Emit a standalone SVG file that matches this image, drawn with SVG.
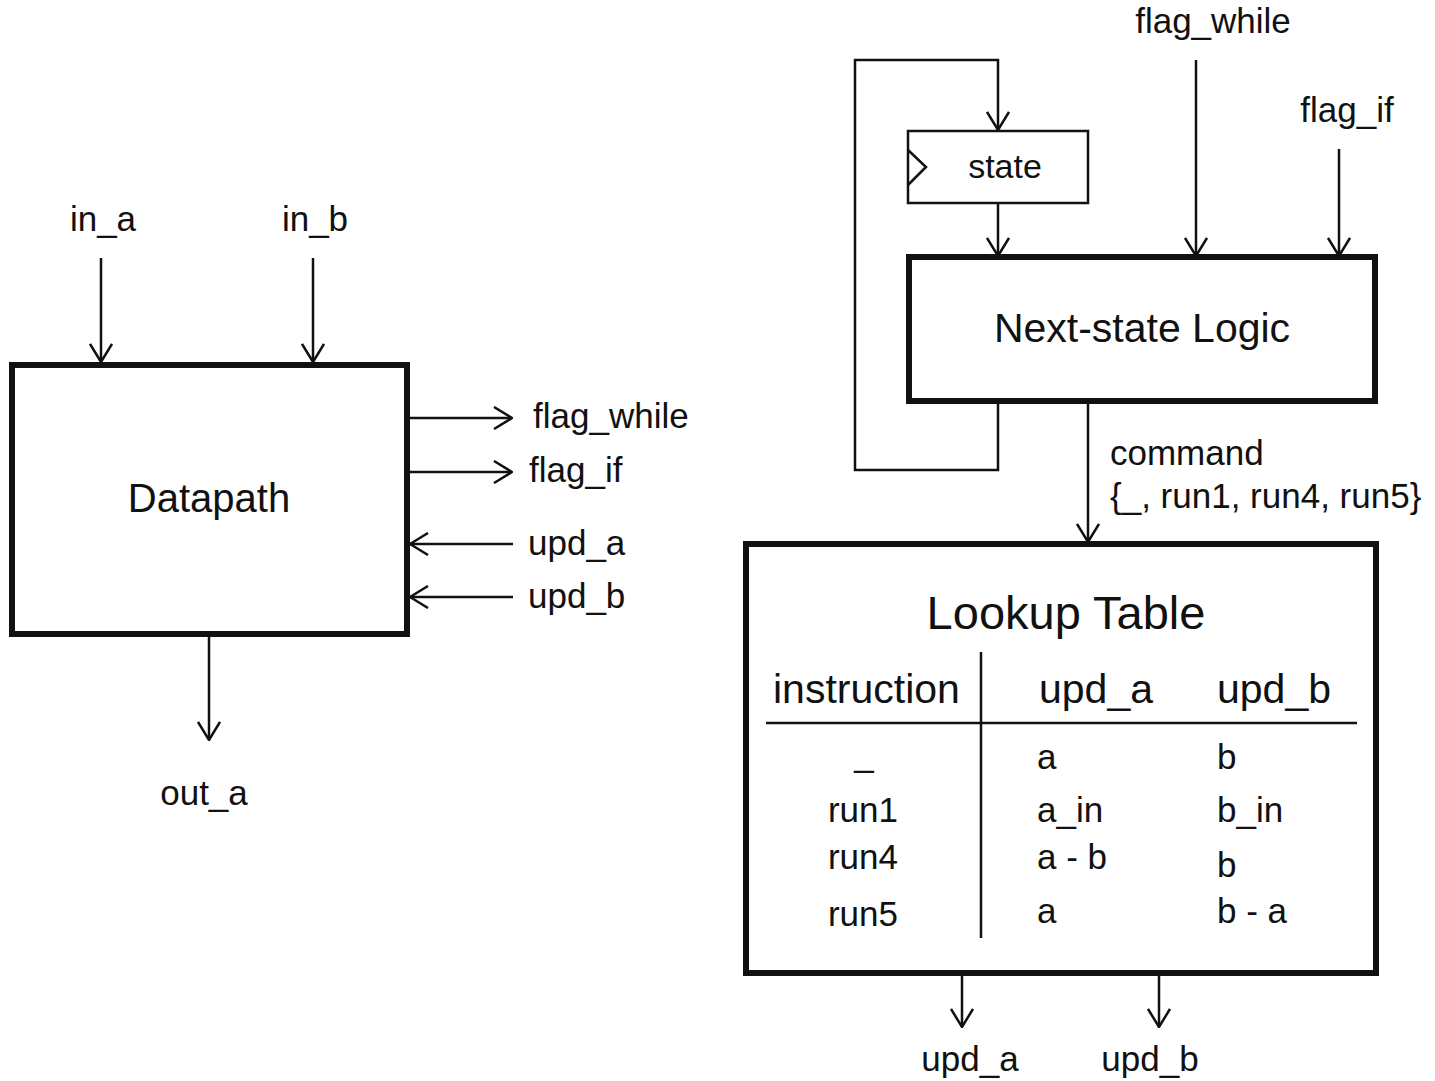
<svg xmlns="http://www.w3.org/2000/svg" width="1435" height="1081" viewBox="0 0 1435 1081">
  <defs>
    <marker id="arrow" viewBox="0 0 20 24" refX="19" refY="12" markerWidth="20" markerHeight="24" markerUnits="userSpaceOnUse" orient="auto">
      <path d="M1,1 L19,12 L1,23" fill="none" stroke="#111" stroke-width="2.5"/>
    </marker>
  </defs>
  <style>
    text { font-family: "Liberation Sans", Arial, Helvetica, sans-serif; fill: #111; }
    .lbl { font-size: 35px; }
    .title { font-size: 41px; }
    .thick { fill: #fff; stroke: #111; stroke-width: 6; }
    .thin { fill: #fff; stroke: #111; stroke-width: 2.5; }
    .wire { fill: none; stroke: #111; stroke-width: 2.5; }
    .arr { fill: none; stroke: #111; stroke-width: 2.5; marker-end: url(#arrow); }
    .mid { text-anchor: middle; }
  </style>
  <rect width="1435" height="1081" fill="#fff"/>

  <!-- connectors -->
  <g id="connectors">
    <!-- datapath inputs / outputs -->
    <line class="arr" x1="101" y1="258" x2="101" y2="362"/>
    <line class="arr" x1="313" y1="258" x2="313" y2="362"/>
    <line class="arr" x1="409" y1="418" x2="512" y2="418"/>
    <line class="arr" x1="409" y1="472" x2="512" y2="472"/>
    <line class="arr" x1="513" y1="544" x2="410" y2="544"/>
    <line class="arr" x1="513" y1="597" x2="410" y2="597"/>
    <line class="arr" x1="209" y1="636" x2="209" y2="740"/>

    <!-- state register feedback loop -->
    <polyline class="arr" points="998,404 998,470 855,470 855,60 998,60 998,130"/>
    <line class="arr" x1="998" y1="203" x2="998" y2="256"/>
    <line class="arr" x1="1196" y1="60" x2="1196" y2="256"/>
    <line class="arr" x1="1339" y1="149" x2="1339" y2="256"/>

    <!-- command bus into the lookup table -->
    <line class="arr" x1="1088" y1="404" x2="1088" y2="542"/>

    <!-- lookup table outputs -->
    <line class="arr" x1="962" y1="976" x2="962" y2="1027"/>
    <line class="arr" x1="1159" y1="976" x2="1159" y2="1027"/>
  </g>

  <!-- free-standing port labels -->
  <g id="labels">
    <text class="lbl mid" x="103" y="231">in_a</text>
    <text class="lbl mid" x="315" y="231">in_b</text>
    <text class="lbl" x="533" y="428">flag_while</text>
    <text class="lbl" x="529" y="482">flag_if</text>
    <text class="lbl" x="528" y="555">upd_a</text>
    <text class="lbl" x="528" y="608">upd_b</text>
    <text class="lbl mid" x="204" y="805">out_a</text>
    <text class="lbl mid" x="1213" y="33">flag_while</text>
    <text class="lbl mid" x="1347" y="122">flag_if</text>
    <text class="lbl" x="1110" y="465">command</text>
    <text class="lbl" x="1110" y="508">{_, run1, run4, run5}</text>
    <text class="lbl mid" x="970" y="1071">upd_a</text>
    <text class="lbl mid" x="1150" y="1071">upd_b</text>
  </g>

  <!-- datapath block -->
  <g id="datapath">
    <rect class="thick" x="12" y="365" width="395" height="269"/>
    <text class="mid" x="209" y="512" font-size="40">Datapath</text>
  </g>

  <!-- state register with clock marker -->
  <g id="state">
    <rect class="thin" x="908" y="131" width="180" height="72"/>
    <polyline class="wire" points="908,150 926,167 908,185"/>
    <text class="mid" x="1005" y="178" font-size="34">state</text>
  </g>

  <!-- next-state logic block -->
  <g id="next-state-logic">
    <rect class="thick" x="909" y="257" width="466" height="144"/>
    <text class="title mid" x="1142" y="342">Next-state Logic</text>
  </g>

  <!-- lookup table block -->
  <g id="lookup-table">
    <rect class="thick" x="746" y="544" width="630" height="429"/>
    <text class="mid" x="1066" y="629" font-size="47">Lookup Table</text>
    <line class="wire" x1="981" y1="652" x2="981" y2="938"/>
    <line class="wire" x1="766" y1="723" x2="1357" y2="723"/>
    <text class="title" x="773" y="703">instruction</text>
    <text class="title" x="1039" y="703">upd_a</text>
    <text class="title" x="1217" y="703">upd_b</text>

    <text class="lbl mid" x="864" y="766">_</text>
    <text class="lbl mid" x="863" y="822">run1</text>
    <text class="lbl mid" x="863" y="869">run4</text>
    <text class="lbl mid" x="863" y="926">run5</text>

    <text class="lbl" x="1037" y="769">a</text>
    <text class="lbl" x="1037" y="822">a_in</text>
    <text class="lbl" x="1037" y="869">a - b</text>
    <text class="lbl" x="1037" y="923">a</text>

    <text class="lbl" x="1217" y="769">b</text>
    <text class="lbl" x="1217" y="822">b_in</text>
    <text class="lbl" x="1217" y="877">b</text>
    <text class="lbl" x="1217" y="923">b - a</text>
  </g>
</svg>
